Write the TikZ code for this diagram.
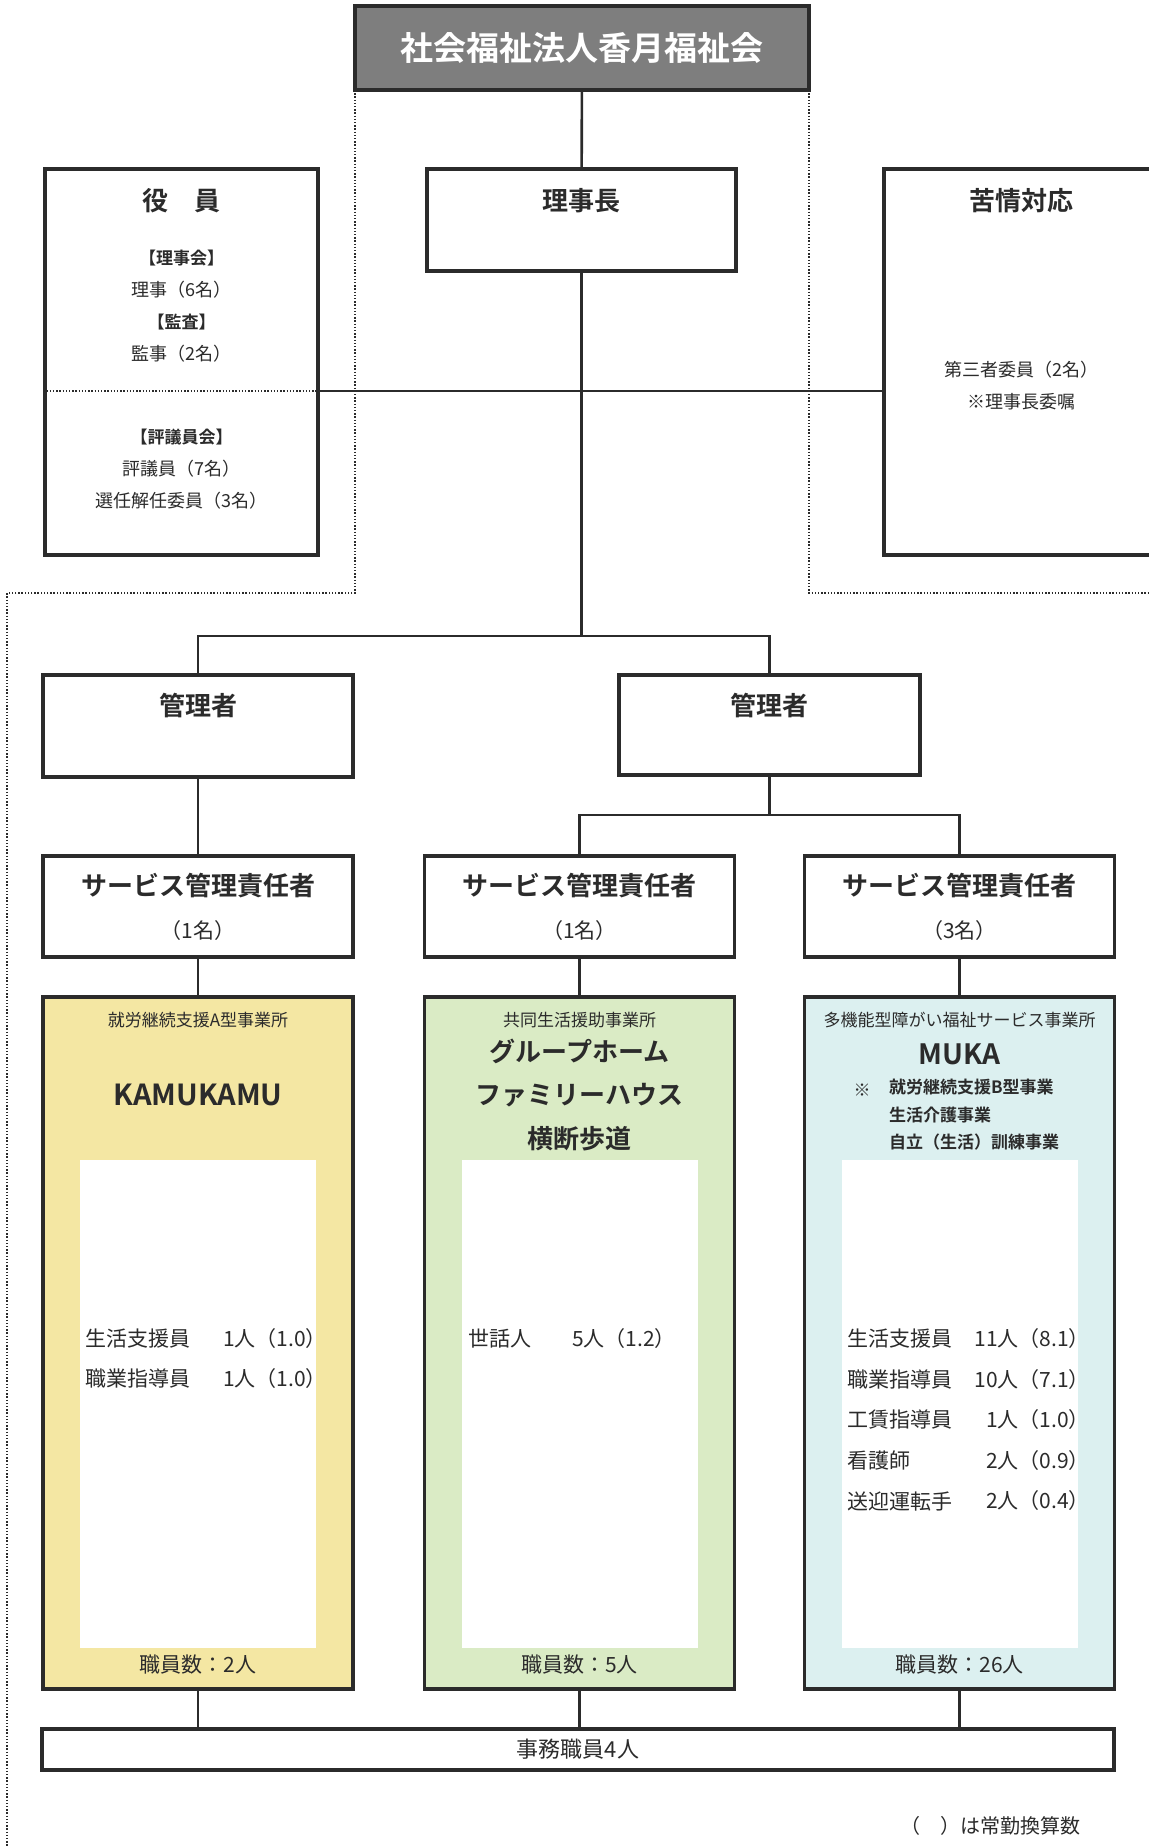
\documentclass[tikz,border=0pt]{standalone}
\usepackage{fontspec}
\setmainfont{Noto Sans CJK JP}[BoldFont={Noto Sans CJK JP Bold}]
\usepackage{tikz}

\definecolor{inkcol}{HTML}{2B2B2B}
\definecolor{corpgray}{HTML}{7E7E7E}
\definecolor{unitA}{HTML}{F4E7A3}
\definecolor{unitB}{HTML}{DAEBC5}
\definecolor{unitC}{HTML}{DCF0F0}
\newcommand{\fsz}[2]{\fontsize{#1}{#2}\selectfont}

\begin{document}
\begin{tikzpicture}[x=0.5pt,y=-0.5pt,
  box node/.style={rectangle,draw=inkcol,line width=1.6pt,inner sep=0pt},
  link/.style={draw=inkcol,line width=1.3pt},
  frame/.style={draw=inkcol,line width=0.7pt,dash pattern=on 0.7pt off 0.9pt},
  head/.style={anchor=center,text=inkcol,font=\bfseries\fsz{13}{15}},
  caption/.style={text=inkcol,font=\fsz{8.5}{10}},
  small head/.style={text=inkcol,font=\bfseries\fsz{8.5}{13.75}},
  body/.style={text=inkcol,font=\fsz{9}{16}},
  staff/.style={text=inkcol,font=\fsz{10.5}{12}}]

  \useasboundingbox (0,0) rectangle (1148,1847);

  % dotted frame
  \draw[frame] (355,90) -- (355,593) -- (7,593) -- (7,1860);
  \draw[frame] (809,90) -- (809,593) -- (1160,593);

  % top
  \node[box node,fill=corpgray,minimum width=227pt,minimum height=42pt,
    text=white,font=\bfseries\fsz{16.5}{18}] (corp) at (582,48) {社会福祉法人香月福祉会};
  \node[box node,fill=white,minimum width=154.5pt,minimum height=51pt,
    label={[head,yshift=-16.5pt]north:理事長}] (chair) at (581.5,220) {};

  % board and complaints
  \node[box node,fill=white,minimum width=136.5pt,minimum height=193pt,
    label={[head,yshift=-16.5pt]north:役　員}] (board) at (181.5,362) {};
  \node[body,align=center] (boardA) at (181.5,306) {{\bfseries\fsz{8.5}{16}【理事会】}\\理事（6名）\\{\bfseries\fsz{8.5}{16}【監査】}\\監事（2名）};
  \node[body,align=center] (boardB) at (181.5,469) {{\bfseries\fsz{8.5}{16}【評議員会】}\\評議員（7名）\\選任解任委員（3名）};
  \draw[frame,line width=1pt] (board.west |- 0,391) -- (board.east |- 0,391);

  \node[box node,fill=white,minimum width=137pt,minimum height=193pt,
    label={[head,yshift=-16.5pt]north:苦情対応}] (complaint) at (1021,362) {};
  \node[body,align=center] (complaintA) at (1021,386) {第三者委員（2名）\\※理事長委嘱};

  % managers
  \node[box node,fill=white,minimum width=155pt,minimum height=51pt,
    label={[head,yshift=-16pt]north:管理者}] (mgrA) at (198,726) {};
  \node[box node,fill=white,minimum width=150.5pt,minimum height=50pt,
    label={[head,yshift=-16pt]north:管理者}] (mgrB) at (769.5,725) {};

  % service managers and units
  \foreach \n/\x/\k in {A/198/1,B/579.5/1,C/959.5/3}{
    \node[box node,fill=white,minimum width=155pt,minimum height=50.5pt,
      label={[head,yshift=-15.5pt]north:サービス管理責任者},
      label={[staff,anchor=center,yshift=-38pt]north:（\k 名）}] (svc\n) at (\x,906.5) {};
    \node[box node,fill=unit\n,minimum width=155pt,minimum height=346pt] (unit\n) at (\x,1343) {};
    \node[fill=white,minimum width=118pt,minimum height=244pt,inner sep=0pt] (sheet\n) at (\x,1404) {};
  }

  \node[caption] (capA) at (198,1020) {就労継続支援A型事業所};
  \node[head,font=\bfseries\fsz{14.5}{16}] (nameA) at (198,1095) {KAMUKAMU};

  \node[caption] (capB) at (579.5,1020) {共同生活援助事業所};
  \node[head,align=center,font=\bfseries\fsz{13}{21.7}] (nameB) at (579.5,1095) {グループホーム\\ファミリーハウス\\横断歩道};

  \node[caption] (capC) at (959.5,1020) {多機能型障がい福祉サービス事業所};
  \node[head,font=\bfseries\fsz{14}{16}] (nameC) at (959.5,1054) {MUKA};
  \node[caption] (markC) at (862,1090) {※};
  \node[small head,align=left,anchor=west] (listC) at (882,1115) {就労継続支援B型事業\\生活介護事業\\自立（生活）訓練事業};

  % staff
  \foreach \job/\amt [count=\i] in {生活支援員/1人（1.0）,職業指導員/1人（1.0）}{
    \node[staff,anchor=west] at (78,1299+40*\i) {\job};
    \node[staff,anchor=east] at (334,1299+40*\i) {\amt};
  }
  \node[staff,anchor=west] at (461,1339) {世話人};
  \node[staff,anchor=east] at (683,1339) {5人（1.2）};
  \foreach \job/\amt [count=\i] in {生活支援員/11人（8.1）,職業指導員/10人（7.1）,工賃指導員/1人（1.0）,看護師/2人（0.9）,送迎運転手/2人（0.4）}{
    \node[staff,anchor=west] at (840,1298.5+40.5*\i) {\job};
    \node[staff,anchor=east] at (1097,1298.5+40.5*\i) {\amt};
  }

  \node[staff] (countA) at (198,1665) {職員数：2人};
  \node[staff] (countB) at (579.5,1665) {職員数：5人};
  \node[staff] (countC) at (959.5,1665) {職員数：26人};

  % office
  \node[box node,fill=white,minimum width=536pt,minimum height=20.5pt,
    text=inkcol,font=\fsz{11}{13}] (office) at (578,1749.5) {事務職員4人};
  \node[staff,anchor=east,font=\fsz{10}{12}] (note) at (1088,1826) {（　）は常勤換算数};

  % connectors
  \coordinate (split) at (581.5,636);
  \coordinate (splitB) at (769.5,815);
  \draw[link] (corp) -- (chair);
  \draw[link] (chair) -- (split);
  \draw[link] (board.east |- 0,391) -- (complaint.west |- 0,391);
  \draw[link] (mgrA) |- (split) -| (mgrB);
  \draw[link] (mgrA) -- (svcA);
  \draw[link] (mgrB) -- (splitB);
  \draw[link] (svcB) |- (splitB) -| (svcC);
  \foreach \n in {A,B,C}{
    \draw[link] (svc\n) -- (unit\n);
    \draw[link] (unit\n) -- (unit\n.south |- office.north);
  }
\end{tikzpicture}
\end{document}
